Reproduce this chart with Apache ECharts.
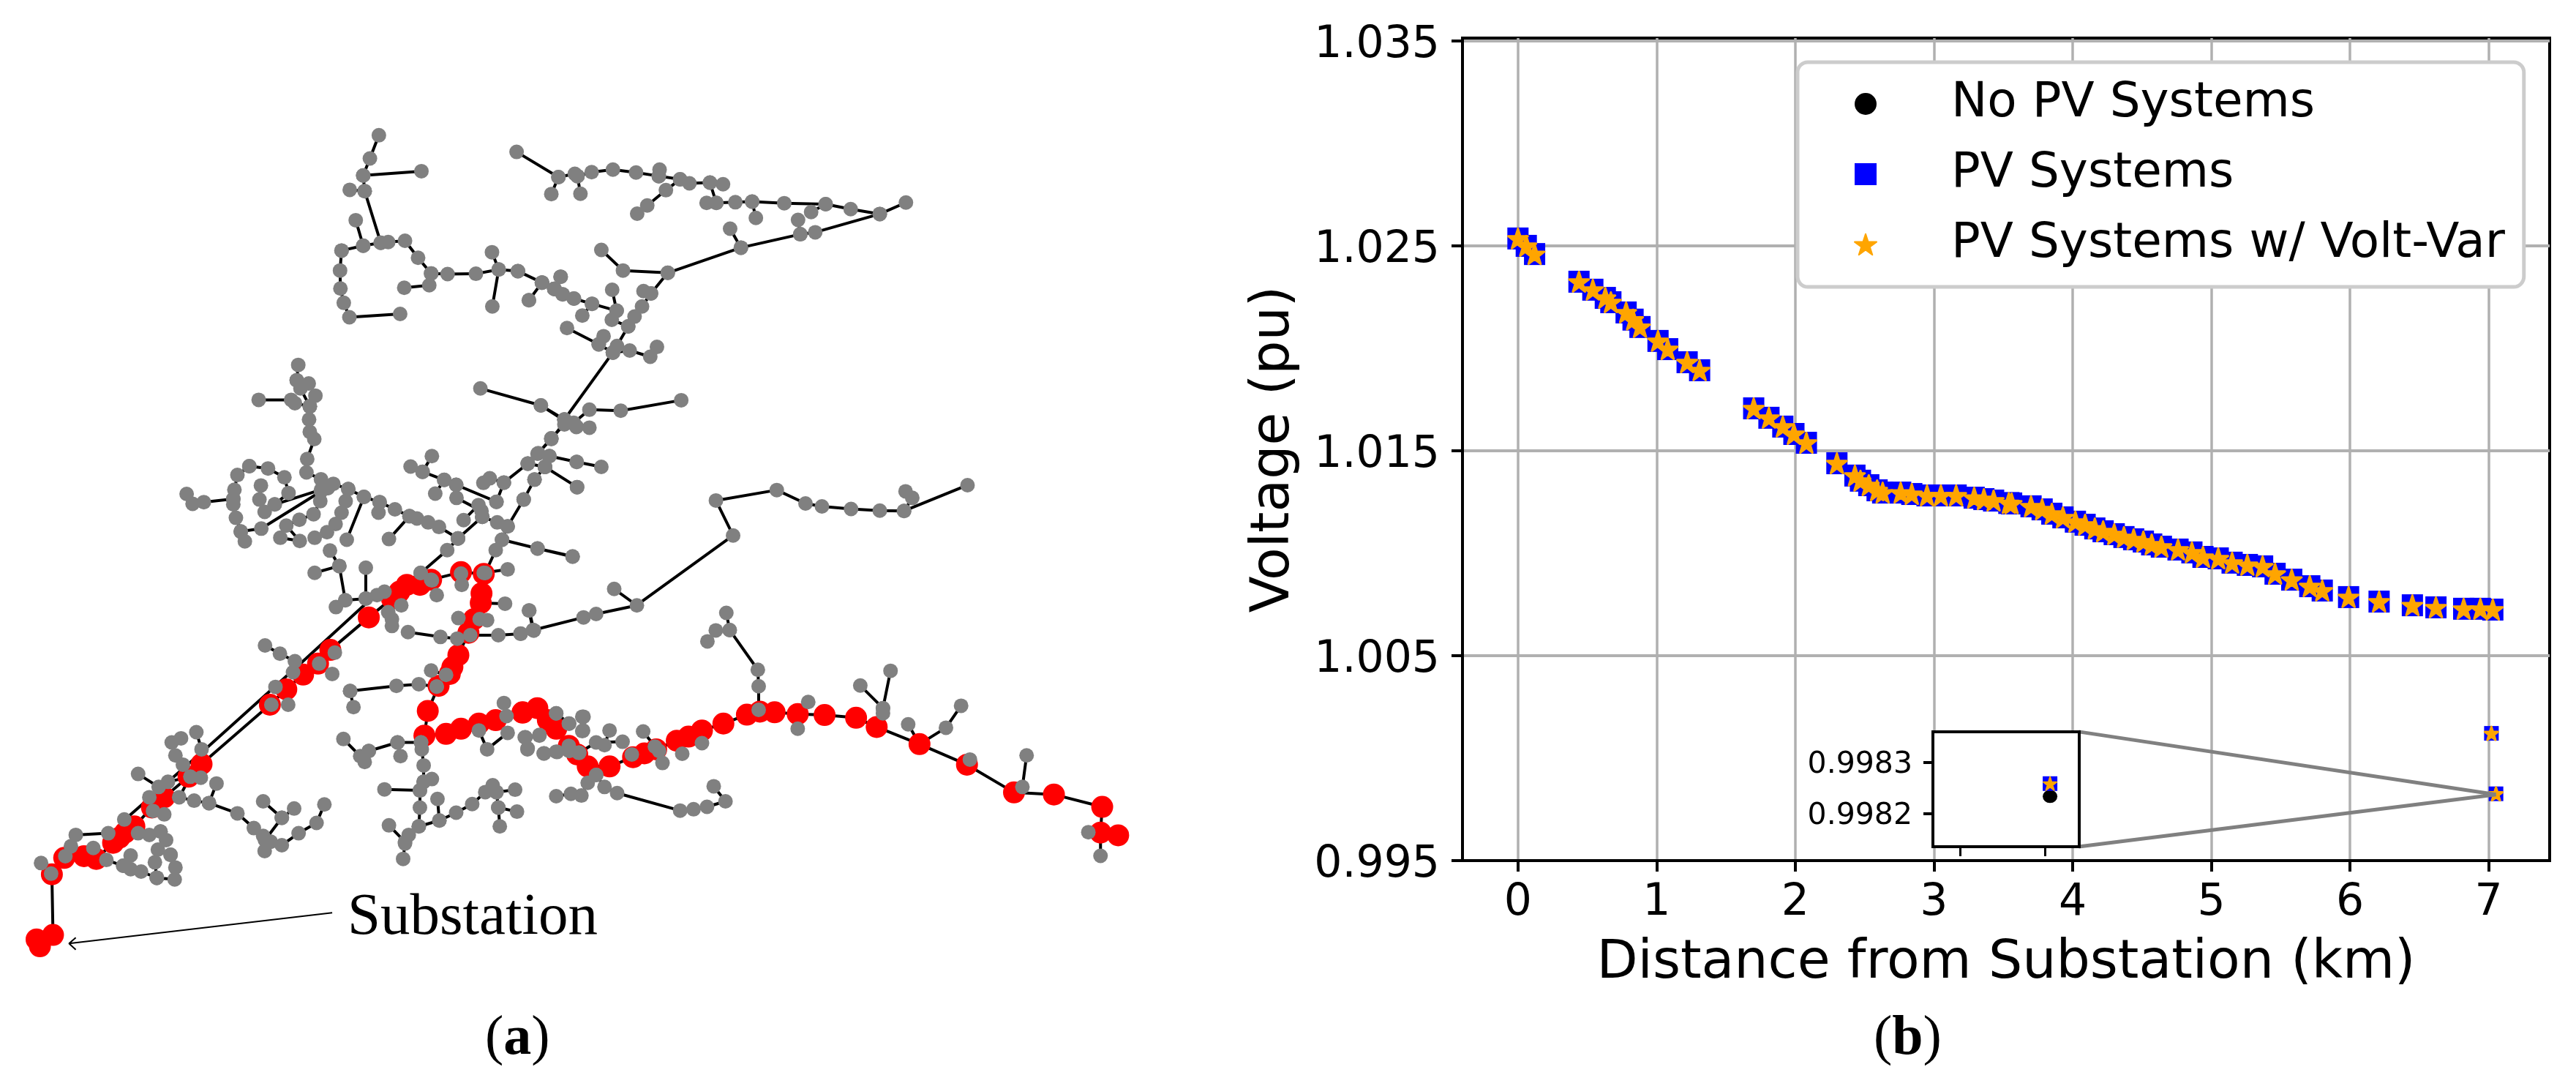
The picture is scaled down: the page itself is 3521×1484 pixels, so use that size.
<!DOCTYPE html>
<html>
<head>
<meta charset="utf-8">
<style>html,body{margin:0;padding:0;background:#fff}#chart{width:3521px;height:1484px}</style>
<script src="https://cdn.jsdelivr.net/npm/echarts@6/dist/echarts.min.js"></script>
</head>
<body>
<div id="chart"></div>
<script>
// ---------- Panel (b): voltage profile ----------
const distanceKm = [0.0,0.06,0.12,0.44,0.54,0.63,0.67,0.78,0.83,0.88,1.01,1.08,1.22,1.31,1.70,1.81,1.91,1.99,2.08,2.30,2.43,2.47,2.53,2.59,2.63,2.76,2.84,2.95,3.05,3.16,3.29,3.36,3.43,3.54,3.56,3.70,3.78,3.85,3.93,4.02,4.09,4.16,4.22,4.30,4.37,4.44,4.51,4.57,4.64,4.76,4.86,4.94,5.05,5.15,5.26,5.37,5.46,5.58,5.71,5.80,5.99,6.21,6.45,6.62,6.82,6.94,7.03,7.02,7.053];
const busVoltage = [1.02536,1.0250,1.0246,1.02325,1.02286,1.02246,1.02225,1.02175,1.0214,1.02104,1.02036,1.01996,1.01932,1.01893,1.01707,1.01661,1.01618,1.01582,1.01539,1.01439,1.01379,1.01354,1.01332,1.01307,1.01296,1.01296,1.01289,1.01282,1.01282,1.01282,1.01271,1.01264,1.01257,1.01245,1.01243,1.01229,1.01214,1.01193,1.01175,1.01154,1.01139,1.01121,1.01107,1.01093,1.01079,1.01068,1.01057,1.01043,1.01032,1.01018,1.01004,1.00982,1.00975,1.00954,1.00943,1.00936,1.009,1.00871,1.00839,1.00818,1.00786,1.00764,1.00746,1.00736,1.00729,1.00729,1.00725,1.00121,0.99826];
const voltageTicks = [0.995,1.005,1.015,1.025,1.035];
const distanceTicks = [0,1,2,3,4,5,6,7];
const seriesNames = ['No PV Systems','PV Systems','PV Systems w/ Volt-Var'];
const insetVoltageTicks = [0.9982,0.9983];
const insetDistanceTicks = [7.0,7.05];
const insetDistance = [7.053];
const insetNoPv = [0.998234];
const insetPv = [0.998259];
const insetVoltVar = [0.998259];
const connectorUpper = [[4.044,1.00129],[7.053,0.99822]];
const connectorLower = [[4.044,0.99568],[7.053,0.99822]];

// ---------- Panel (a): network map in four regions ----------
const northWestBranches = [
[[1015,190],[991,261],[973,313],[977,361],[1020,519]],
[[973,313],[1129,300]],[[937,357],[977,361]],[[953,450],[973,528]],
[[915,543],[973,528],[1020,519],[1040,517],[1085,513],[1120,565],[1155,613],[1150,649],[1083,657]],
[[915,543],[911,604],[912,659],[921,703],[936,747],[1072,737]],
[[1155,613],[1199,615],[1275,614],[1336,601],[1387,606],[1452,641],[1485,660],[1508,677],[1538,690]],
[[1318,548],[1336,601],[1319,714]],[[1452,641],[1417,695]],[[1502,623],[1485,660]],
[[799,893],[795,940],[805,965],[830,1020],[828,1060],[830,1098],[842,1120],[823,1181],[821,1222],[860,1243],[878,1270],[893,1257],[933,1273],[975,1297],[1017,1313],[1058,1335],[1097,1356],[1117,1363],[1147,1375],[1176,1389],[1227,1424]],
[[795,940],[827,950],[845,987],[830,1020]],
[[693,1000],[780,1000],[790,1010],[830,1020]],
[[500,1288],[516,1318],[546,1313],[625,1303]],
[[668,1203],[636,1230],[628,1275],[625,1303],[625,1320],[632,1361],[645,1403],[656,1433]],
[[645,1403],[700,1394],[860,1280]],
[[668,1203],[718,1210],[762,1237],[773,1285],[736,1320],[709,1343],[695,1305],[699,1262]],
[[736,1320],[860,1275]],
[[878,1270],[858,1310],[840,1350],[802,1367],[767,1385],[803,1432],[751,1422]],
[[933,1273],[926,1310],[915,1345],[899,1380],[876,1405],[843,1422]],
[[975,1297],[929,1428]],[[1014,1345],[1017,1313]],[[1042,1426],[1097,1356]],
[[1100,1204],[1132,1220],[1190,1245],[1222,1260],[1330,1312]],
[[1157,1172],[1132,1220]],[[1166,1287],[1190,1245]],
[[1222,1260],[1223,1300],[1290,1340]],
[[1242,1368],[1282,1322],[1292,1358]],
[[1227,1424],[1292,1358]],
[[1330,1312],[1350,1253],[1414,1195],[1440,1165],[1477,1120],[1515,1065]],
[[1295,1254],[1312,1240],[1350,1253]],
[[1414,1195],[1460,1205],[1472,1172],[1545,1190]],
[[1460,1205],[1546,1267]],
[[1287,965],[1449,1017],[1515,1065],[1545,1082]],
[[1460,1205],[1432,1244],[1403,1305],[1360,1387],[1332,1375],[1292,1358]],
[[1360,1387],[1345,1428],[1328,1460],[1300,1530]],
[[1345,1428],[1440,1455],[1534,1480]],
[[1227,1424],[1198,1460],[1127,1530]]
];
const northEastBranches = [
[[12,241],[124,318],[105,370]],
[[124,318],[168,308],[175,315],[213,303],[270,295],[332,304],[393,315],[450,325],[475,337],[530,335],[547,397],[598,395],[643,393],[729,398],[840,401],[907,416],[985,431],[1055,396]],
[[183,369],[175,315]],[[395,295],[393,315]],
[[450,325],[412,358],[362,405],[335,430]],
[[565,340],[530,335]],[[521,397],[547,397]],[[653,443],[643,393]],[[801,425],[840,401]],[[766,449],[772,493]],
[[985,431],[812,487],[772,493],[613,534],[417,611],[297,604],[239,541]],
[[584,476],[613,534]],
[[417,611],[372,674],[352,667]],
[[372,674],[348,714],[328,745],[311,775],[270,855],[140,1060]],
[[16,606],[80,641],[113,660],[135,677],[165,690],[214,706],[280,727],[267,755],[311,775]],
[[130,623],[113,660]],[[45,695],[80,641]],[[188,742],[214,706]],[[268,663],[280,727]],
[[147,780],[232,830],[245,805]],
[[232,830],[270,855],[315,849],[370,868],[388,838]],[[281,835],[270,855]],
[[453,1001],[291,1033],[207,1030],[165,1070]],
[[207,1085],[172,1083],[140,1060]],[[77,1017],[140,1060]],[[105,1118],[140,1075]],
[[42,1195],[70,1163],[105,1118]],
[[88,1205],[100,1172],[173,1190],[239,1205]],
[[88,1205],[174,1267]],[[60,1244],[31,1305]],[[68,1455],[162,1479]],
[[1220,1261],[1050,1340],[985,1339],[908,1334],[830,1326],[786,1317],[709,1276],[546,1308],[592,1415]],
[[1054,1280],[1072,1300],[1050,1340]]
];
const northEastSpans = [[[592,1415],[334,1628]]];
const southWestSpans = [
[[139,950],[142,1127]],
[[335,790],[555,580],[820,320],[975,165],[1010,135]],
[[1353,160],[1290,158]]
];
const southWestFeeder = [
[[142,1127],[98,1140],[107,1160]],
[[139,950],[172,902],[225,897],[258,905],[303,858],[320,843],[335,828],[360,810],[407,755],[440,725],[505,665],[540,628],[723,455],[767,410],[812,367],[852,335],[885,295],[988,200],[1050,145],[1070,125],[1090,105],[1125,105],[1155,90],[1235,68],[1296,73],[1290,130],[1288,158],[1270,205],[1255,245],[1228,310],[1212,345],[1205,365],[1175,400],[1146,473],[1137,545],[1195,540],[1235,525],[1283,510],[1328,500],[1400,478]]
];
const southWestBranches = [
[[110,917],[137,948]],[[175,897],[190,868],[203,835],[290,830]],[[250,873]],
[[285,908],[330,925],[378,942],[420,960]],[[350,895],[330,925]],[[350,935]],[[415,915],[420,960]],
[[457,893],[470,930],[468,965],[420,960]],
[[430,825],[445,850],[423,878],[457,893]],
[[333,790],[370,830],[400,835],[430,825]],
[[526,535],[540,585]],[[485,553],[460,565],[470,603],[490,630]],
[[370,657],[425,695],[450,680],[510,665],[480,725],[520,735],[560,742],[636,772],[680,815],[705,838],[725,855],[755,865],[800,830],[848,800],[869,746]],
[[580,685],[560,742]],[[538,668]],[[400,725]],[[440,775],[410,765]],
[[705,737],[755,785],[788,758]],[[755,785],[710,850]],[[709,882],[725,855]],
[[710,282],[750,306],[790,328]],[[785,360]],[[738,403]],[[772,455]],[[727,455]],[[890,365]],[[897,303]],[[855,335]],
[[938,415],[947,462]],[[938,415],[1062,400],[1122,395],[1170,402]],
[[1155,355],[1195,368],[1170,402]],
[[843,70],[909,50],[884,5]],[[909,50],[925,150],[900,170]],
[[980,55],[980,145],[1010,135],[1030,125]],[[925,150],[980,145]],
[[1040,185],[1050,205],[1050,225]],[[1075,165]],
[[1093,243],[1180,257],[1225,262],[1260,252],[1335,252],[1395,248],[1430,238]],
[[1418,180],[1430,238]],
[[1228,202],[1285,205],[1305,208]],[[1353,160]],[[1360,60],[1296,70]],[[1170,135],[1155,90]],[[1237,105],[1235,72]],
[[1127,70],[1157,92]],
[[1350,450],[1357,488]],[[1283,530],[1305,585],[1360,537]],
[[1408,550],[1413,585]],[[1458,597],[1490,592],[1525,590],[1550,595]],
[[1445,545]],[[1490,480],[1525,510]],[[1560,490]],[[1562,530]],
[[920,555],[965,605],[988,590],[977,622]],
[[988,590],[1065,565],[1073,605]],[[1065,565],[1128,565],[1135,632],[1135,680],[1125,705],[1030,702]],
[[1135,680],[1157,672]],[[1128,565],[1130,585]],
[[1125,705],[1125,755],[1122,810],[1095,835],[1085,860],[1080,905]],
[[1042,807],[1085,855]],
[[1122,810],[1177,793],[1222,770],[1265,745],[1300,710],[1320,690],[1330,710],[1380,703]],
[[1172,730],[1177,793]],[[1330,710],[1335,755],[1385,767]],[[1335,755],[1339,810]]
];
const southEastFeeder = [
[[25,477],[60,465],[85,500],[105,525],[135,575],[155,600],[180,635],[232,635],[288,608],[315,597],[343,585],[392,560],[420,548],[452,530],[503,510],[559,484],[590,475],[625,477],[680,482],[744,485],[819,493],[868,520],[970,570],[1083,630],[1195,711],[1290,717],[1405,753],[1401,828],[1443,836]]
];
const southEastSpans = [
[[943,512],[970,570]],[[1033,522],[970,570]],[[705,447],[680,482]],[[680,525],[680,482]],
[[1372,827],[1401,828]],[[1401,828],[1401,896]],[[1090,615],[1083,630]]
];
const southEastBranches = [
[[243,117],[297,165],[200,190],[170,200],[50,237],[20,247]],[[40,180],[50,237]],
[[510,187],[518,237],[485,238],[465,270]],[[518,237],[585,353],[587,401],[587,470]],
[[705,447]],[[680,525]],
[[829,399],[883,465]],[[901,356],[883,465],[883,480]],
[[943,512]],[[1033,522],[1069,458]],
[[1090,615]],[[1225,603],[1215,695]],
[[1372,827]],[[1401,896]],
[[105,480],[135,510]],[[170,490]],[[167,532]],[[65,543]],[[75,597],[107,593]],[[30,550],[37,582]],[[135,575]],
[[160,595],[200,565],[263,563]],[[232,530],[220,573]],[[312,533],[340,577],[358,625]],
[[405,598]],[[452,567]],[[285,600]],[[350,590]],
[[200,660],[180,683],[165,720],[140,715],[105,722]],
[[200,660],[220,695],[250,713],[400,764],[432,760],[464,753],[508,737],[480,693]]
];
const substationLeader = [[[890,1062],[185,1152]],[[203,1135],[185,1152],[203,1170]]];

// Region read-outs to figure units
const fromNorthWest = p => [p[0]/1.96, 100+p[1]/2.24];
const fromNorthEast = p => [700+p[0]/1.96, 100+p[1]/2.24];
const fromSouthWest = p => [p[0]/1.96, 750+p[1]/2.136];
const fromSouthEast = p => [700+p[0]/1.742, 750+p[1]/2.136];
const convert = (list, f) => list.map(b => b.map(f));

const grayBranches = [].concat(
  convert(northWestBranches, fromNorthWest),
  convert(northEastBranches, fromNorthEast),
  convert(southWestBranches, fromSouthWest),
  convert(southEastBranches, fromSouthEast));
const redBranches = [].concat(convert(southWestFeeder, fromSouthWest), convert(southEastFeeder, fromSouthEast));
const spanBranches = [].concat(convert(northEastSpans, fromNorthEast), convert(southWestSpans, fromSouthWest), convert(southEastSpans, fromSouthEast));
const joinBreaks = list => { const out = []; list.forEach(b => { b.forEach(p => out.push(p)); out.push([null,null]); }); return out; };
const flat = list => [].concat(...list);

const starPath = 'path://M50 0 L61.2 34.5 L97.6 34.5 L68.2 55.9 L79.4 90.5 L50 69.1 L20.6 90.5 L31.8 55.9 L2.4 34.5 L38.8 34.5 Z';
const squarePath = 'path://M0 0 L100 0 L100 100 L0 100 Z';
const FONT = 'DejaVu Sans', SERIF = 'Liberation Serif';
const zip = (xs, ys) => xs.map((x, i) => [x, ys[i]]);
const smallFrom = distanceKm.length - 2;
const sized = (big, small) => (v, p) => p.dataIndex >= smallFrom ? small : big;
const captionRich = {n:{fontFamily:SERIF,fontSize:76,fontWeight:'normal',color:'#000'},b:{fontFamily:SERIF,fontSize:76,fontWeight:'bold',color:'#000'}};

const option = {
  animation: false,
  backgroundColor: '#fff',
  title: [
    {text:'Substation', left:470, top:1209, textStyle:{fontFamily:SERIF,fontSize:81,fontWeight:'normal',color:'#000'}},
    {text:'{n|(}{b|a}{n|)}', left:658, top:1377, textStyle:{fontWeight:'normal',rich:captionRich}},
    {text:'{n|(}{b|b}{n|)}', left:2556, top:1377, textStyle:{fontWeight:'normal',rich:captionRich}}
  ],
  legend: {
    data: [
      {name:seriesNames[0], icon:'circle'},
      {name:seriesNames[1], icon:squarePath},
      {name:seriesNames[2], icon:starPath}
    ],
    orient:'vertical', left:2457, top:85,
    padding:[24,26,25,77],
    itemWidth:30, itemHeight:30, itemGap:30,
    backgroundColor:'#fff', borderColor:'#ccc', borderWidth:5, borderRadius:14,
    textStyle:{fontFamily:FONT,fontSize:66,color:'#000',padding:[0,0,0,97]},
    z:20
  },
  grid: [
    {left:0, top:0, width:1700, height:1484, show:false},
    {left:1999, top:52, width:1486, height:1124, show:true, borderColor:'#000', borderWidth:4, z:0},
    {left:2642, top:1000, width:200, height:157, show:true, borderColor:'#000', borderWidth:4, backgroundColor:'#fff', z:10}
  ],
  xAxis: [
    {gridIndex:0, type:'value', min:0, max:1700, show:false},
    {gridIndex:1, type:'value', min:-0.4, max:7.44, z:1,
      name:'Distance from Substation (km)', nameLocation:'middle', nameGap:105,
      nameTextStyle:{fontFamily:FONT,fontSize:73,color:'#000'},
      axisLine:{show:true,onZero:false,lineStyle:{color:'#000',width:4}},
      axisTick:{show:true,length:15,lineStyle:{color:'#000',width:4},customValues:distanceTicks},
      axisLabel:{fontFamily:FONT,fontSize:60,color:'#000',margin:28,customValues:distanceTicks,formatter:v=>String(v)},
      splitLine:{show:true,lineStyle:{color:'#b0b0b0',width:3.5}}},
    {gridIndex:2, type:'value', min:6.984, max:7.0702, z:11,
      axisLine:{show:false,onZero:false},
      axisTick:{show:true,length:13,lineStyle:{color:'#000',width:3},customValues:insetDistanceTicks},
      axisLabel:{show:false}, splitLine:{show:false}}
  ],
  yAxis: [
    {gridIndex:0, type:'value', min:0, max:1484, inverse:true, show:false},
    {gridIndex:1, type:'value', min:0.995, max:1.03514, z:1,
      name:'Voltage (pu)', nameLocation:'middle', nameGap:220, nameRotate:90,
      nameTextStyle:{fontFamily:FONT,fontSize:73,color:'#000'},
      axisLine:{show:true,onZero:false,lineStyle:{color:'#000',width:4}},
      axisTick:{show:true,length:15,lineStyle:{color:'#000',width:4},customValues:voltageTicks},
      axisLabel:{fontFamily:FONT,fontSize:60,color:'#000',margin:31,customValues:voltageTicks,formatter:v=>'{t|'+v.toFixed(3)+'}',rich:{t:{fontFamily:FONT,fontSize:60,color:'#000',padding:[12,0,0,0]}}},
      splitLine:{show:true,lineStyle:{color:'#b0b0b0',width:4}}},
    {gridIndex:2, type:'value', min:0.998136, max:0.99836, z:11,
      axisLine:{show:false,onZero:false},
      axisTick:{show:true,length:13,lineStyle:{color:'#000',width:4},customValues:insetVoltageTicks},
      axisLabel:{fontFamily:FONT,fontSize:41,color:'#000',margin:28,customValues:insetVoltageTicks,formatter:v=>'{t|'+v.toFixed(4)+'}',rich:{t:{fontFamily:FONT,fontSize:41,color:'#000',padding:[7,0,0,0]}}},
      splitLine:{show:false}}
  ],
  series: [
    {name:'lines', type:'line', xAxisIndex:0, yAxisIndex:0, symbol:'none', silent:true, clip:false, z:1,
     connectNulls:false, lineStyle:{color:'#000',width:4},
     data:joinBreaks([].concat(spanBranches, redBranches, grayBranches))},
    {name:'leader', type:'line', xAxisIndex:0, yAxisIndex:0, symbol:'none', silent:true, clip:false, z:1,
     connectNulls:false, lineStyle:{color:'#000',width:2},
     data:joinBreaks(convert(substationLeader, fromSouthWest))},
    {name:'feeder', type:'scatter', xAxisIndex:0, yAxisIndex:0, symbol:'circle', symbolSize:30, clip:false, z:2,
     itemStyle:{color:'#ff0000',opacity:1}, data:flat(redBranches)},
    {name:'nodes', type:'scatter', xAxisIndex:0, yAxisIndex:0, symbol:'circle', symbolSize:20, clip:false, z:3,
     itemStyle:{color:'#808080',opacity:1}, data:flat(grayBranches)},

    {name:seriesNames[0], type:'scatter', xAxisIndex:1, yAxisIndex:1, symbol:'circle', symbolSize:sized(20,14), z:3,
     itemStyle:{color:'#000',opacity:1}, data:zip(distanceKm,busVoltage)},
    {name:seriesNames[1], type:'scatter', xAxisIndex:1, yAxisIndex:1, symbol:'rect', symbolSize:sized([29,30],20), z:4,
     itemStyle:{color:'#0000ff',opacity:1}, data:zip(distanceKm,busVoltage)},
    {name:seriesNames[2], type:'scatter', xAxisIndex:1, yAxisIndex:1, symbol:starPath, symbolSize:sized(27,18), z:5,
     itemStyle:{color:'#ffa500',borderColor:'#ffa500',borderWidth:3,borderJoin:'round',opacity:1}, data:zip(distanceKm,busVoltage)},
    {name:'connector', type:'line', xAxisIndex:1, yAxisIndex:1, symbol:'none', silent:true, z:6,
     connectNulls:false, lineStyle:{color:'#808080',width:5},
     data:joinBreaks([connectorUpper,connectorLower])},

    {name:seriesNames[0], type:'scatter', xAxisIndex:2, yAxisIndex:2, symbol:'circle', symbolSize:[20,18], z:12,
     itemStyle:{color:'#000',opacity:1}, data:zip(insetDistance,insetNoPv)},
    {name:seriesNames[1], type:'scatter', xAxisIndex:2, yAxisIndex:2, symbol:'rect', symbolSize:20, z:13,
     itemStyle:{color:'#0000ff',opacity:1}, data:zip(insetDistance,insetPv)},
    {name:seriesNames[2], type:'scatter', xAxisIndex:2, yAxisIndex:2, symbol:starPath, symbolSize:18, z:14,
     itemStyle:{color:'#ffa500',borderColor:'#ffa500',borderWidth:2,borderJoin:'round',opacity:1}, data:zip(insetDistance,insetVoltVar)}
  ]
};
const chart = echarts.init(document.getElementById('chart'), null, {renderer:'canvas'});
chart.setOption(option);
</script>
</body>
</html>
